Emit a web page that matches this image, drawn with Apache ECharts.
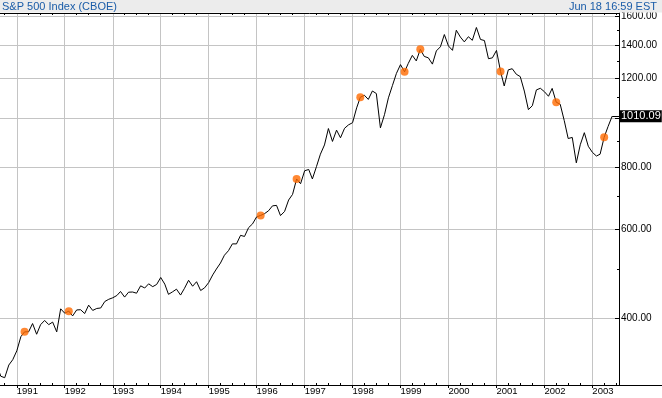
<!DOCTYPE html>
<html><head><meta charset="utf-8">
<script src="https://cdn.jsdelivr.net/npm/echarts@6/dist/echarts.min.js"></script>
<style>html,body{margin:0;padding:0;background:#fff}#c{width:662px;height:398px}</style>
</head><body><div id="c"></div>
<script>
// ---- text ----
const titleText = 'S&P 500 Index (CBOE)';
const stampText = 'Jun 18 16:59 EST';

// ---- monthly closes (first month: 1990-08) ----
const firstYear = 1990, firstMonth = 8;
const close1990 = [322.56, 306.05, 304.00, 322.22, 330.22];
const close1991 = [343.93, 367.07, 375.22, 375.35, 389.83, 371.16, 387.81, 395.43, 387.86, 392.46, 375.22, 417.09];
const close1992 = [408.79, 412.70, 403.69, 414.95, 415.35, 408.14, 424.21, 414.03, 417.80, 418.68, 431.35, 435.71];
const close1993 = [438.78, 443.38, 451.67, 440.19, 450.19, 450.53, 448.13, 463.56, 458.93, 467.83, 461.79, 466.45];
const close1994 = [481.61, 467.14, 445.77, 450.91, 456.50, 444.27, 458.26, 475.49, 462.69, 472.35, 453.69, 459.27];
const close1995 = [470.42, 487.39, 500.71, 514.71, 533.40, 544.75, 562.06, 561.88, 584.41, 581.50, 605.37, 615.93];
const close1996 = [636.02, 640.43, 645.50, 654.17, 669.12, 670.63, 639.95, 651.99, 687.33, 705.27, 757.02, 740.74];
const close1997 = [786.16, 790.82, 757.12, 801.34, 848.28, 885.14, 954.29, 899.47, 947.28, 914.62, 955.40, 970.43];
const close1998 = [980.28, 1049.34, 1101.75, 1111.75, 1090.82, 1133.84, 1120.67, 957.28, 1017.01, 1098.67, 1163.63, 1229.23];
const close1999 = [1279.64, 1238.33, 1286.37, 1335.18, 1301.84, 1372.71, 1328.72, 1320.41, 1282.71, 1362.93, 1388.91, 1469.25];
const close2000 = [1394.46, 1366.42, 1498.58, 1452.43, 1420.60, 1454.60, 1430.83, 1517.68, 1436.51, 1429.40, 1314.95, 1320.28];
const close2001 = [1366.01, 1239.94, 1160.33, 1249.46, 1255.82, 1224.38, 1211.23, 1133.58, 1040.94, 1059.78, 1139.45, 1148.08];
const close2002 = [1130.20, 1106.73, 1147.39, 1076.92, 1067.14, 989.82, 911.62, 916.07, 815.28, 885.76, 936.31, 879.82];
const close2003 = [855.70, 841.15, 848.18, 916.92, 963.59, 1010.09];

// ---- event markers (orange dots) ----
const eventMonths = ['1991-03', '1992-02', '1996-02', '1996-11', '1998-03', '1999-02', '1999-06', '2001-02', '2002-04', '2003-04'];

// ---- axes ----
const yearTicks = ['1991','1992','1993','1994','1995','1996','1997','1998','1999','2000','2001','2002','2003'];
const priceTicks = [400, 600, 800, 1000, 1200, 1400, 1600];
const priceLabels = [400, 600, 800, 1200, 1400, 1600];
const minorPriceTicks = [500, 700, 900, 1100, 1300, 1500];
const lastValue = 1010.09;
const xMinDate = '1990-08-26', xMaxDate = '2003-07-23';
const yMin = 294, yMax = 1622;

// ---- build ----
const ts = s => Date.parse(s);
const xMin = ts(xMinDate), xMax = ts(xMaxDate);
const allCloses = [].concat(close1990, close1991, close1992, close1993, close1994, close1995, close1996,
  close1997, close1998, close1999, close2000, close2001, close2002, close2003);
const pad = n => (n < 10 ? '0' : '') + n;
const monthKeys = allCloses.map((_, i) => {
  const t = firstMonth - 1 + i;
  return (firstYear + Math.floor(t / 12)) + '-' + pad(t % 12 + 1);
});
const lineData = allCloses.map((v, i) => [ts(monthKeys[i] + '-01'), v]);
const eventData = eventMonths.map(m => [ts(m + '-01'), allCloses[monthKeys.indexOf(m)]]);
const yearTickValues = yearTicks.map(y => ts(y + '-01-01'));
const quarterTickValues = [];
for (let y = 1990; y <= 2003; y++) {
  ['04', '07', '10'].forEach(m => {
    const d = ts(y + '-' + m + '-01');
    if (d > xMin && d < xMax) quarterTickValues.push(d);
  });
}
const lastX = lineData[lineData.length - 1][0];

const sans = "'Liberation Sans', Arial, sans-serif";
const gridColor = '#c4c4c4';

const chart = echarts.init(document.getElementById('c'), null, { renderer: 'canvas' });
chart.setOption({
  animation: false,
  backgroundColor: '#ffffff',
  grid: { left: 0, right: 43, top: 13, bottom: 13, outerBoundsMode: 'none', containLabel: false },
  xAxis: [
    {
      type: 'value', position: 'bottom', min: xMin, max: xMax, scale: true,
      axisLine: { show: true, lineStyle: { color: '#000', width: 1 } },
      axisTick: { show: true, inside: false, length: 3, customValues: yearTickValues, lineStyle: { color: '#000' } },
      axisLabel: {
        show: true, customValues: yearTickValues, align: 'left', verticalAlign: 'top', margin: 1,
        fontSize: 9.5, fontFamily: sans, color: '#000', hideOverlap: false,
        formatter: v => String(new Date(v).getUTCFullYear())
      },
      splitLine: { show: true, lineStyle: { color: gridColor, width: 1 } }
    },
    {
      type: 'value', position: 'bottom', min: xMin, max: xMax, scale: true,
      axisLine: { show: false },
      axisTick: { show: true, inside: true, length: 2, customValues: quarterTickValues, lineStyle: { color: '#000' } },
      axisLabel: { show: false }, splitLine: { show: false }
    },
    {
      type: 'value', position: 'top', min: xMin, max: xMax, scale: true,
      axisLine: { show: true, lineStyle: { color: '#000', width: 1 } },
      axisTick: { show: true, inside: true, length: 2, customValues: quarterTickValues, lineStyle: { color: '#000' } },
      axisLabel: { show: false }, splitLine: { show: false }
    }
  ],
  yAxis: [
    {
      type: 'log', position: 'right', min: yMin, max: yMax,
      axisLine: { show: true, lineStyle: { color: '#000', width: 1 } },
      axisTick: { show: true, inside: true, length: 4, customValues: priceTicks, lineStyle: { color: '#000' } },
      axisLabel: {
        show: true, customValues: priceLabels, margin: 2, fontSize: 10, fontFamily: sans, color: '#000',
        formatter: v => Number(v).toFixed(2)
      },
      splitLine: { show: true, lineStyle: { color: gridColor, width: 1 } }
    },
    {
      type: 'log', position: 'right', min: yMin, max: yMax,
      axisLine: { show: false },
      axisTick: { show: true, inside: true, length: 2, customValues: minorPriceTicks, lineStyle: { color: '#000' } },
      axisLabel: { show: false }, splitLine: { show: false }
    }
  ],
  series: [
    {
      type: 'line', xAxisIndex: 0, yAxisIndex: 0, data: lineData,
      showSymbol: false, symbol: 'none', lineStyle: { color: '#000', width: 1 }, z: 3,
      markLine: {
        silent: true, symbol: 'none', animation: false,
        data: [[
          { coord: [lastX, lastValue] },
          { coord: [xMax, lastValue] }
        ]],
        lineStyle: { color: '#000', width: 1, type: 'solid' },
        label: {
          show: true, position: 'end', distance: 1, formatter: lastValue.toFixed(2),
          backgroundColor: '#000', color: '#fff', fontSize: 11, fontFamily: sans,
          padding: [1, 1, 0, 1]
        }
      }
    },
    {
      type: 'scatter', xAxisIndex: 0, yAxisIndex: 0, data: eventData,
      symbol: 'circle', symbolSize: 8, itemStyle: { color: '#ff6a00' }, z: 4
    }
  ],
  graphic: [
    { type: 'rect', z: 100, shape: { x: 0, y: 0, width: 662, height: 12.5 }, style: { fill: '#ececec' } },
    { type: 'text', z: 101, x: 2, y: 6.5, style: { text: titleText, fill: '#1a5ca8', font: "11px 'Liberation Sans', Arial, sans-serif", verticalAlign: 'middle' } },
    { type: 'text', z: 101, x: 657, y: 6.5, style: { text: stampText, fill: '#1a5ca8', font: "11px 'Liberation Sans', Arial, sans-serif", verticalAlign: 'middle', align: 'right' } },
    { type: 'line', z: 50, shape: { x1: 619, y1: 385.5, x2: 662, y2: 385.5 }, style: { stroke: '#000', lineWidth: 1 } }
  ]
});
</script>
</body></html>
